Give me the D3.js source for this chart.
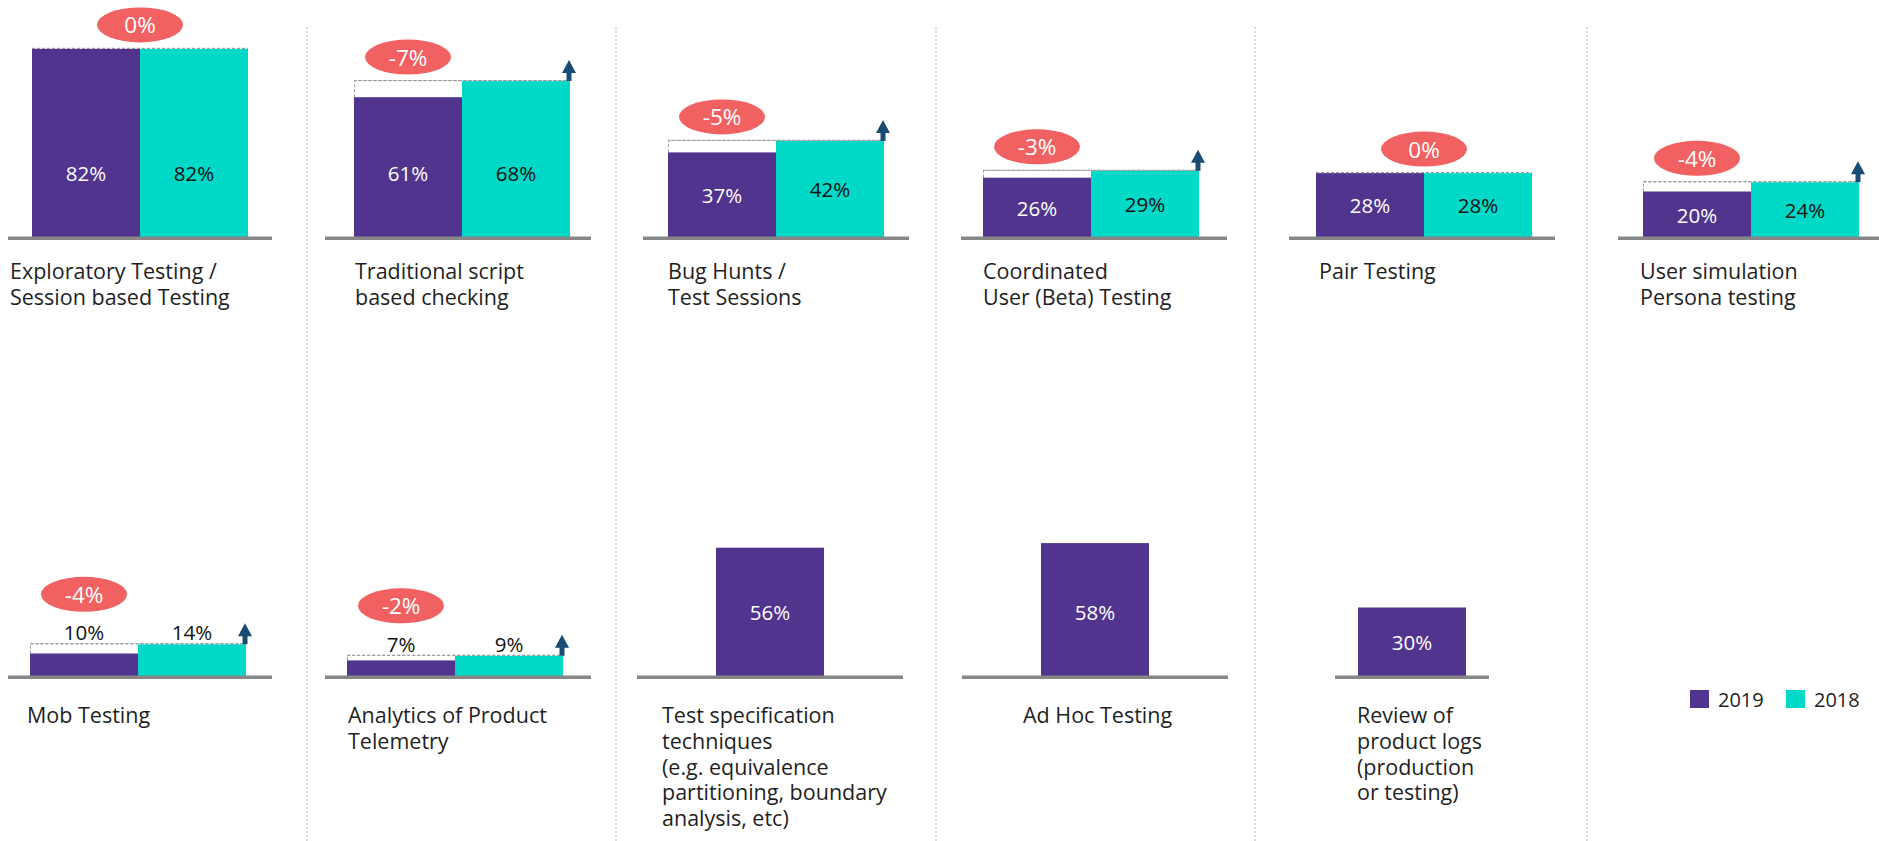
<!DOCTYPE html>
<html>
<head>
<meta charset="utf-8">
<script src="https://cdn.jsdelivr.net/npm/d3@7"></script>
<style>
  html, body { margin: 0; padding: 0; background: #fff; }
  svg { display: block; font-family: "Open Sans", "Noto Sans", sans-serif; }
</style>
</head>
<body>
<svg id="chart" width="1879" height="841"></svg>
<script>
// ---------- data ----------
const categoryLabels = [
  ["Exploratory Testing /", "Session based Testing"],
  ["Traditional script", "based checking"],
  ["Bug Hunts /", "Test Sessions"],
  ["Coordinated", "User (Beta) Testing"],
  ["Pair Testing"],
  ["User simulation", "Persona testing"],
  ["Mob Testing"],
  ["Analytics of Product", "Telemetry"],
  ["Test specification", "techniques", "(e.g. equivalence", "partitioning, boundary", "analysis, etc)"],
  ["Ad Hoc Testing"],
  ["Review of", "product logs", "(production", "or testing)"]
];
const values2019 = [82, 61, 37, 26, 28, 20, 10, 7, 56, 58, 30];
const values2018 = [82, 68, 42, 29, 28, 24, 14, 9, null, null, null];
const seriesNames = ["2019", "2018"];

// ---------- layout (positions only) ----------
const W = 1879, H = 841;
const rowBase = [237.5, 676.5];
const rowLabelY = [279, 723];
const lineStep = 25.8;
const barW = 108;
const panelLayout = [
  {row: 0, barX: 32,   base: [8, 272],     labelX: 10},
  {row: 0, barX: 354,  base: [325, 591],   labelX: 355},
  {row: 0, barX: 668,  base: [643, 909],   labelX: 668},
  {row: 0, barX: 983,  base: [961, 1227],  labelX: 983},
  {row: 0, barX: 1316, base: [1289, 1555], labelX: 1319},
  {row: 0, barX: 1643, base: [1618, 1879], labelX: 1640},
  {row: 1, barX: 30,   base: [8, 272],     labelX: 27},
  {row: 1, barX: 347,  base: [325, 591],   labelX: 348},
  {row: 1, barX: 716,  base: [637, 903],   labelX: 662},
  {row: 1, barX: 1041, base: [962, 1228],  labelX: 1023},
  {row: 1, barX: 1358, base: [1335, 1489], labelX: 1357}
];
const dividerX = [307, 616, 936, 1255, 1587];

const C = {
  purple: "#51348E",
  cyan: "#00D8C8",
  pill: "#F26161",
  arrow: "#184C72",
  base: "#878787",
  dash: "#9a9a9a",
  text: "#1f1f1f"
};

const svg = d3.select("#chart");
const hScale = d3.scaleLinear().domain([0, 100]).range([0, 230]);
const color = d3.scaleOrdinal().domain(seriesNames).range([C.purple, C.cyan]);

// dividers
svg.selectAll("line.divider").data(dividerX).join("line")
  .attr("class", "divider")
  .attr("x1", d => d).attr("x2", d => d)
  .attr("y1", 27).attr("y2", H)
  .attr("stroke", "#b5b5b5").attr("stroke-width", 1)
  .attr("stroke-dasharray", "2,2");

const panels = values2019.map((v, i) => ({
  i, v19: v, v18: values2018[i], labels: categoryLabels[i], L: panelLayout[i]
}));

panels.forEach(p => {
  const g = svg.append("g");
  const y0 = rowBase[p.L.row];
  const x = d3.scaleBand().domain(seriesNames)
    .range([p.L.barX, p.L.barX + barW * 2]).padding(0);
  const hasPair = p.v18 != null;
  const bars = hasPair ? [{s: "2019", v: p.v19}, {s: "2018", v: p.v18}] : [{s: "2019", v: p.v19}];

  // dashed outline for the gap
  if (hasPair) {
    const top18 = y0 - hScale(p.v18);
    const top19 = y0 - hScale(p.v19);
    g.append("path")
      .attr("d", `M${x("2019") + 0.5},${top19} L${x("2019") + 0.5},${top18 - 0.5} L${x("2018") + x.bandwidth()},${top18 - 0.5}`)
      .attr("fill", "none").attr("stroke", C.dash)
      .attr("stroke-width", 1).attr("stroke-dasharray", "3,2");
  }

  // bars
  g.selectAll("rect.bar").data(bars).join("rect")
    .attr("class", "bar")
    .attr("x", d => x(d.s))
    .attr("width", x.bandwidth())
    .attr("y", d => y0 - hScale(d.v))
    .attr("height", d => hScale(d.v))
    .attr("fill", d => color(d.s));

  if (hasPair) {
    const top18 = y0 - hScale(p.v18);
    g.append("line")
      .attr("x1", x("2019")).attr("x2", x("2018") + x.bandwidth())
      .attr("y1", top18 - 0.5).attr("y2", top18 - 0.5)
      .attr("stroke", C.dash).attr("stroke-width", 1).attr("stroke-dasharray", "3,2");
  }

  // baseline
  g.append("rect")
    .attr("x", p.L.base[0]).attr("width", p.L.base[1] - p.L.base[0])
    .attr("y", y0 - 1).attr("height", 3.5)
    .attr("fill", C.base);

  // value labels
  const small = hasPair && p.v19 < 15;
  g.selectAll("text.val").data(bars).join("text")
    .attr("class", "val")
    .attr("x", d => x(d.s) + x.bandwidth() / 2)
    .attr("y", d => {
      if (small) return y0 - hScale(p.v18) - 12;
      const h = hScale(d.v);
      return y0 - Math.min(h / 2, 65);
    })
    .attr("text-anchor", "middle")
    .attr("dominant-baseline", "central")
    .attr("font-size", 20.5)
    .attr("fill", d => small ? "#111" : (d.s === "2019" ? "#fff" : "#111"))
    .text(d => d.v + "%");

  if (hasPair) {
    const diff = p.v19 - p.v18;
    const top18 = y0 - hScale(p.v18);
    // change pill
    const cx = diff === 0 ? x("2018") : x("2019") + x.bandwidth() / 2;
    const cy = top18 - (small ? 50 : 24);
    g.append("ellipse")
      .attr("cx", cx).attr("cy", cy).attr("rx", 43).attr("ry", 17.5)
      .attr("fill", C.pill);
    g.append("text")
      .attr("x", cx).attr("y", cy)
      .attr("text-anchor", "middle").attr("dominant-baseline", "central")
      .attr("font-size", 22.5).attr("fill", "#fff")
      .text((diff < 0 ? "-" : "") + Math.abs(diff) + "%");

    // up arrow
    if (diff < 0) {
      const ax = x("2018") + x.bandwidth() - 1;
      const tipY = top18 - 21;
      g.append("path")
        .attr("d", `M${ax},${tipY} L${ax + 7},${tipY + 13} L${ax + 2.5},${tipY + 13} L${ax + 2.5},${top18} L${ax - 2.5},${top18} L${ax - 2.5},${tipY + 13} L${ax - 7},${tipY + 13} Z`)
        .attr("fill", C.arrow);
    }
  }

  // category label (one text per line)
  g.selectAll("text.cat").data(p.labels).join("text")
    .attr("class", "cat")
    .attr("x", p.L.labelX)
    .attr("y", (d, k) => rowLabelY[p.L.row] + k * lineStep)
    .attr("font-size", 21.5).attr("fill", C.text)
    .text(d => d);
});

// legend
const legend = svg.append("g");
const legendX = d3.scaleOrdinal().domain(seriesNames).range([1690, 1786]);
seriesNames.forEach(s => {
  legend.append("rect")
    .attr("x", legendX(s)).attr("y", 690).attr("width", 19).attr("height", 18)
    .attr("fill", color(s));
  legend.append("text")
    .attr("x", legendX(s) + 28).attr("y", 707)
    .attr("font-size", 20).attr("fill", C.text)
    .text(s);
});
</script>
</body>
</html>
